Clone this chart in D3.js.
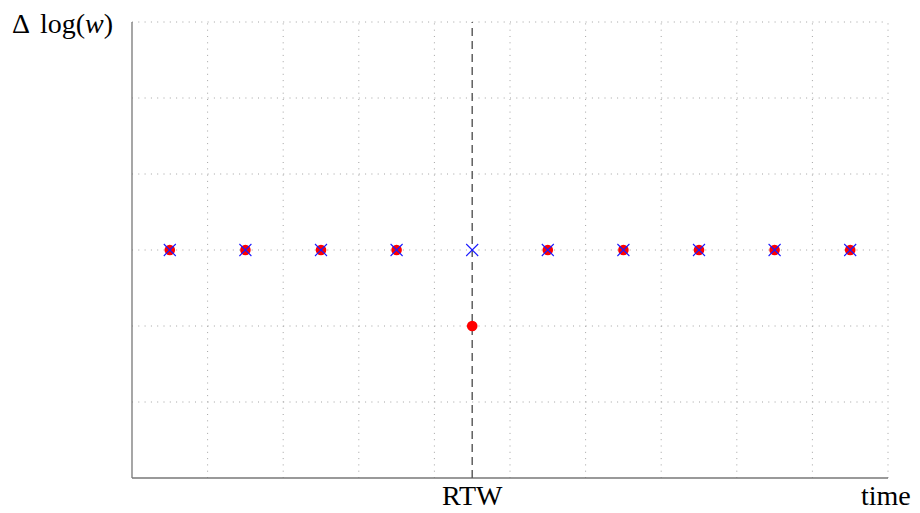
<!DOCTYPE html>
<html>
<head>
<meta charset="utf-8">
<script src="https://cdn.jsdelivr.net/npm/d3@7"></script>
<style>
  body { margin: 0; background: #fff; }
</style>
</head>
<body>
<div id="chart"></div>
<script>
// data
const steps = [0.5, 1.5, 2.5, 3.5, 4.5, 5.5, 6.5, 7.5, 8.5, 9.5];
const blueVals = [3, 3, 3, 3, 3, 3, 3, 3, 3, 3];
const redVals = [3, 3, 3, 3, 2, 3, 3, 3, 3, 3];
const rtwStep = 4.5;
const xGrid = [1, 2, 3, 4, 5, 6, 7, 8, 9, 10];
const yGrid = [1, 2, 3, 4, 5, 6];

const W = 920, H = 513;
const margin = {top: 22, right: 32, bottom: 36, left: 132};
const serif = "'Liberation Serif', 'Times New Roman', Times, 'DejaVu Serif', serif";

const svg = d3.select("#chart").append("svg")
    .attr("width", W)
    .attr("height", H);

const x = d3.scaleLinear().domain([0, 10]).range([margin.left, W - margin.right]);
const y = d3.scaleLinear().domain([0, 6]).range([H - margin.bottom + 1, margin.top]);

// grid
svg.append("g").selectAll("line")
    .data(xGrid).enter().append("line")
    .attr("x1", d => x(d)).attr("x2", d => x(d))
    .attr("y1", y(0)).attr("y2", y(6))
    .attr("stroke", "#999").attr("stroke-width", 0.9)
    .attr("stroke-dasharray", "1,5.3");

svg.append("g").selectAll("line")
    .data(yGrid).enter().append("line")
    .attr("y1", d => y(d)).attr("y2", d => y(d))
    .attr("x1", x(0)).attr("x2", x(10))
    .attr("stroke", "#999").attr("stroke-width", 0.9)
    .attr("stroke-dasharray", "1,5.3");

// axes
svg.append("line")
    .attr("x1", x(0)).attr("x2", x(0))
    .attr("y1", y(0)).attr("y2", y(6))
    .attr("stroke", "#777").attr("stroke-width", 1.3);
svg.append("line")
    .attr("x1", x(0)).attr("x2", x(10))
    .attr("y1", y(0)).attr("y2", y(0))
    .attr("stroke", "#777").attr("stroke-width", 1.3);

// RTW marker line
svg.append("line")
    .attr("x1", x(rtwStep)).attr("x2", x(rtwStep))
    .attr("y1", y(0)).attr("y2", y(6))
    .attr("stroke", "#555").attr("stroke-width", 1.4)
    .attr("stroke-dasharray", "8,5");

// red dots
svg.append("g").selectAll("circle")
    .data(steps).enter().append("circle")
    .attr("cx", d => x(d))
    .attr("cy", (d, i) => y(redVals[i]))
    .attr("r", 5.3)
    .attr("fill", "#f00");

// blue crosses
const s = 6;
svg.append("g").selectAll("path")
    .data(steps).enter().append("path")
    .attr("d", (d, i) => {
        const cx = x(d), cy = y(blueVals[i]);
        return `M${cx - s},${cy - s}L${cx + s},${cy + s}M${cx - s},${cy + s}L${cx + s},${cy - s}`;
    })
    .attr("stroke", "#1a1aff").attr("stroke-width", 1.1)
    .attr("fill", "none");

// labels
const ylab = svg.append("text")
    .attr("y", 33)
    .attr("font-family", serif)
    .attr("font-size", 28);
ylab.append("tspan").attr("x", 12).text("Δ");
ylab.append("tspan").attr("x", 40).text("log(");
ylab.append("tspan").attr("font-style", "italic").text("w");
ylab.append("tspan").text(")");

svg.append("text")
    .attr("x", x(rtwStep)).attr("y", 505)
    .attr("text-anchor", "middle")
    .attr("font-family", serif)
    .attr("font-size", 28)
    .text("RTW");

svg.append("text")
    .attr("x", 861).attr("y", 505)
    .attr("font-family", serif)
    .attr("font-size", 28)
    .text("time");
</script>
</body>
</html>
